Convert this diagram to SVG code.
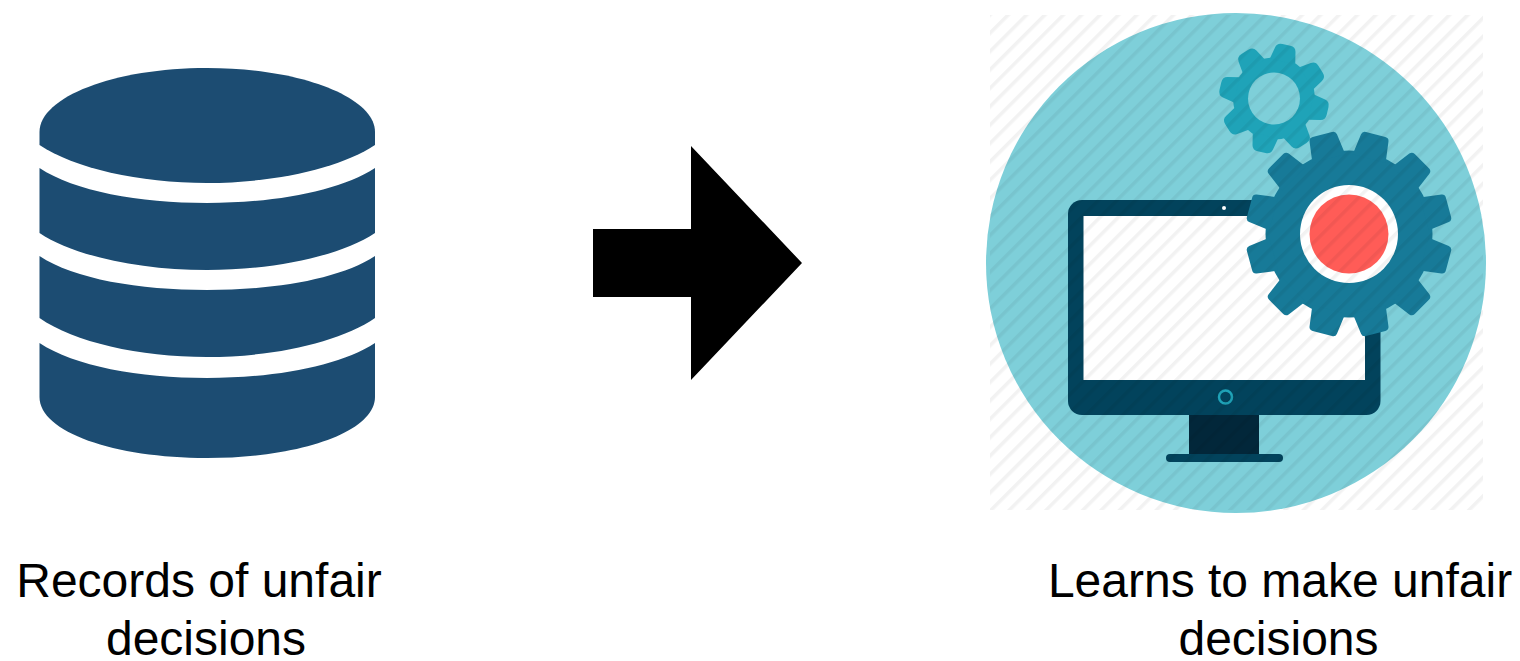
<svg xmlns="http://www.w3.org/2000/svg" width="1520" height="661" viewBox="0 0 1520 661">
<style>
.lbl{font-family:"Liberation Sans",Arial,sans-serif;font-size:48px;fill:#000;text-anchor:middle}
.db{fill:#1c4c72}
.bt{fill:#177a98}
.st{fill:#1fa3b8}
</style>
<defs>
<pattern id="hatch" patternUnits="userSpaceOnUse" width="13" height="13" patternTransform="rotate(45 990 15)">
<rect x="0" y="0" width="3.5" height="13" fill="#000" fill-opacity="0.05"/>
</pattern>
<path id="bigTooth" d="M-17,-78 L-14.2,-99.500 Q-13.700,-103 -10,-103 L10,-103 Q13.700,-103 14.2,-99.500 L17,-78Z"/>
<path id="smallTooth" d="M-13,-38 L-10.500,-50 Q-9.500,-55 -4,-55 L4,-55 Q9.500,-55 10.500,-50 L13,-38Z"/>
</defs>
<rect width="1520" height="661" fill="#fff"/>
<g id="records">
<path class="db" d="M39.500,145 L39.500,132 C39.500,97 114,68 207,68 C300,68 375,97 375,132 L375,145 C340,168 275,183 207,183 C139,183 74,168 39.500,145Z"/>
<path class="db" d="M39.500,168 C74,191 139,203 207,203 C275,203 340,191 375,168 L375,233 C340,256 275,270 207,270 C139,270 74,256 39.500,233Z"/>
<path class="db" d="M39.500,256 C74,279 139,290 207,290 C275,290 340,279 375,256 L375,318 C340,342 275,357 207,357 C139,357 74,342 39.500,318Z"/>
<path class="db" d="M39.500,343 C74,366 139,378 207,378 C275,378 340,366 375,343 L375,397 C375,432 300,458 207,458 C114,458 39.500,432 39.500,397Z"/>
<text class="lbl" x="199" y="597">Records of unfair</text>
<text class="lbl" x="206" y="655">decisions</text>
</g>
<g id="connectors">
<polygon fill="#000" points="593,229 691,229 691,146 802,263 691,380 691,297 593,297"/>
</g>
<g id="learner">
<circle cx="1236" cy="263" r="250" fill="#7ecfd9"/>
<g id="monitor">
<rect x="1189" y="412" width="70" height="44" fill="#02273a"/>
<rect x="1166" y="454" width="117" height="8" rx="4" fill="#02435c"/>
<rect x="1068" y="200" width="312.500" height="215" rx="14" fill="#02435c"/>
<rect x="1083.500" y="216" width="281.500" height="164" fill="#fff"/>
<circle cx="1224" cy="208" r="2" fill="#fff"/>
<circle cx="1225.500" cy="397" r="6.500" fill="none" stroke="#1fa3b8" stroke-width="2.500"/>
</g>
<g id="small-gear" class="st">
<circle cx="1274" cy="98.500" r="41"/>
<use href="#smallTooth" transform="translate(1274 98.500) rotate(13)"/>
<use href="#smallTooth" transform="translate(1274 98.500) rotate(58)"/>
<use href="#smallTooth" transform="translate(1274 98.500) rotate(103)"/>
<use href="#smallTooth" transform="translate(1274 98.500) rotate(148)"/>
<use href="#smallTooth" transform="translate(1274 98.500) rotate(193)"/>
<use href="#smallTooth" transform="translate(1274 98.500) rotate(238)"/>
<use href="#smallTooth" transform="translate(1274 98.500) rotate(283)"/>
<use href="#smallTooth" transform="translate(1274 98.500) rotate(328)"/>
<circle cx="1274" cy="98.500" r="26" fill="#7ecfd9"/>
</g>
<g id="big-gear" class="bt">
<circle cx="1349" cy="234" r="83.500"/>
<use href="#bigTooth" transform="translate(1349 234) rotate(15)"/>
<use href="#bigTooth" transform="translate(1349 234) rotate(45)"/>
<use href="#bigTooth" transform="translate(1349 234) rotate(75)"/>
<use href="#bigTooth" transform="translate(1349 234) rotate(105)"/>
<use href="#bigTooth" transform="translate(1349 234) rotate(135)"/>
<use href="#bigTooth" transform="translate(1349 234) rotate(165)"/>
<use href="#bigTooth" transform="translate(1349 234) rotate(195)"/>
<use href="#bigTooth" transform="translate(1349 234) rotate(225)"/>
<use href="#bigTooth" transform="translate(1349 234) rotate(255)"/>
<use href="#bigTooth" transform="translate(1349 234) rotate(285)"/>
<use href="#bigTooth" transform="translate(1349 234) rotate(315)"/>
<use href="#bigTooth" transform="translate(1349 234) rotate(345)"/>
<circle cx="1349" cy="234" r="49" fill="#fff"/>
<circle cx="1349" cy="234" r="39.500" fill="#ff5c57"/>
</g>
<rect x="990" y="15" width="493" height="495" fill="url(#hatch)"/>
<text class="lbl" x="1280" y="597">Learns to make unfair</text>
<text class="lbl" x="1278.500" y="655">decisions</text>
</g>
</svg>
